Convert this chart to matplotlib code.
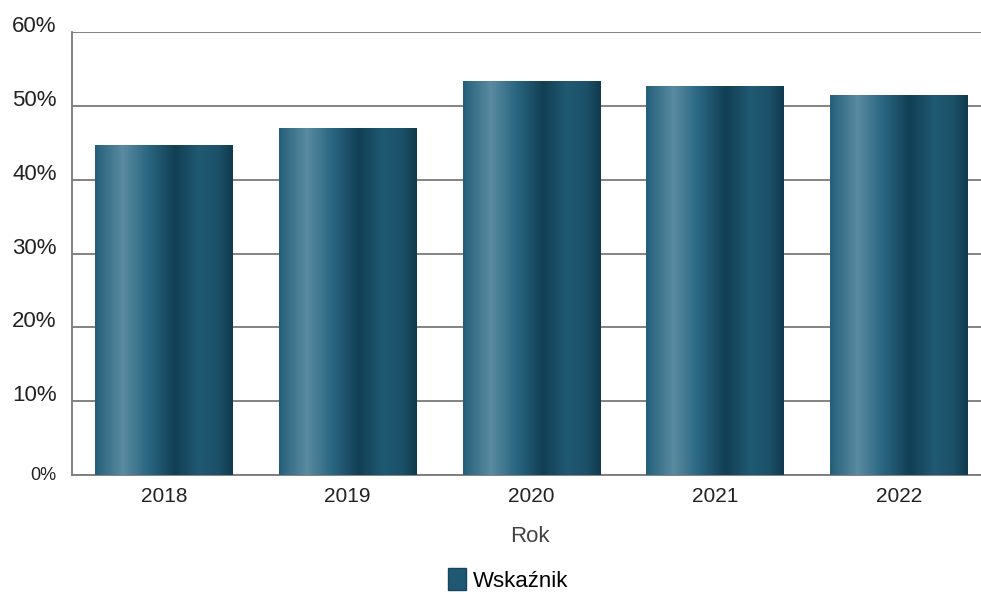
import numpy as np
import matplotlib
matplotlib.use('Agg')
import matplotlib.pyplot as plt
from matplotlib.colors import LinearSegmentedColormap
from matplotlib.patches import Patch
from matplotlib.ticker import PercentFormatter

years = ['2018', '2019', '2020', '2021', '2022']
values = [44.7, 47.0, 53.4, 52.7, 51.4]
series_name = 'Wskaźnik'

plt.rcParams['font.family'] = ['Liberation Sans', 'DejaVu Sans']

# cylinder-like shading across each bar
shade = LinearSegmentedColormap.from_list('shade', [
    (0.00, '#24607a'),
    (0.20, '#5a8ba0'),
    (0.38, '#2a6782'),
    (0.58, '#123f54'),
    (0.76, '#1f5a73'),
    (0.90, '#1b5068'),
    (1.00, '#113a4c'),
])

fig = plt.figure(figsize=(9.81, 5.94), dpi=100)
ax = fig.add_axes([72 / 981, (594 - 475) / 594, (991 - 72) / 981, (475 - 32) / 594])

x = np.arange(len(years))
bars = ax.bar(x, values, width=0.75, color='none', zorder=3)
grad = np.linspace(0, 1, 256).reshape(1, -1)
for b in bars:
    x0, y0 = b.get_x(), b.get_y()
    w, h = b.get_width(), b.get_height()
    im = ax.imshow(grad, cmap=shade, aspect='auto', extent=[x0, x0 + w, y0, y0 + h],
                   zorder=3, interpolation='bicubic')
    im.set_clip_path(b)

ax.set_xlim(-0.5, len(years) - 0.5)
ax.set_ylim(0, 60)
ax.set_yticks(np.arange(0, 61, 10))
ax.yaxis.set_major_formatter(PercentFormatter(decimals=0))
ax.set_xticks(x)
ax.set_xticklabels(years)
ax.tick_params(axis='x', length=0, labelsize=15, pad=9, colors='#222222')
ax.tick_params(axis='y', length=0, labelsize=16, pad=11, labelcolor='#222222')
for lbl in ax.get_yticklabels():
    if lbl.get_text() == '0%':
        lbl.set_fontsize(13)
        lbl.set_verticalalignment('center')
    else:
        lbl.set_verticalalignment('baseline')
ax.grid(axis='y', color='#7a7a7a', linewidth=1.3, zorder=0)
ax.set_axisbelow(True)
for s in ['top', 'right']:
    ax.spines[s].set_visible(False)
for s in ['left', 'bottom']:
    ax.spines[s].set_color('#7a7a7a')
    ax.spines[s].set_linewidth(1.3)

ax.set_xlabel('Rok', fontsize=16, color='#444444')
ax.xaxis.set_label_coords((530 - 72) / (991 - 72), -(536 - 475) / (475 - 32))
ax.xaxis.label.set_verticalalignment('center')

fig.legend(handles=[Patch(facecolor='#1f5872', edgecolor='#16465c', label=series_name)],
           loc='center', bbox_to_anchor=(508 / 981, 1 - 580 / 594), frameon=False,
           fontsize=16, handlelength=0.8, handleheight=1.1, handletextpad=0.3)

fig.savefig('out.png', dpi=100)
